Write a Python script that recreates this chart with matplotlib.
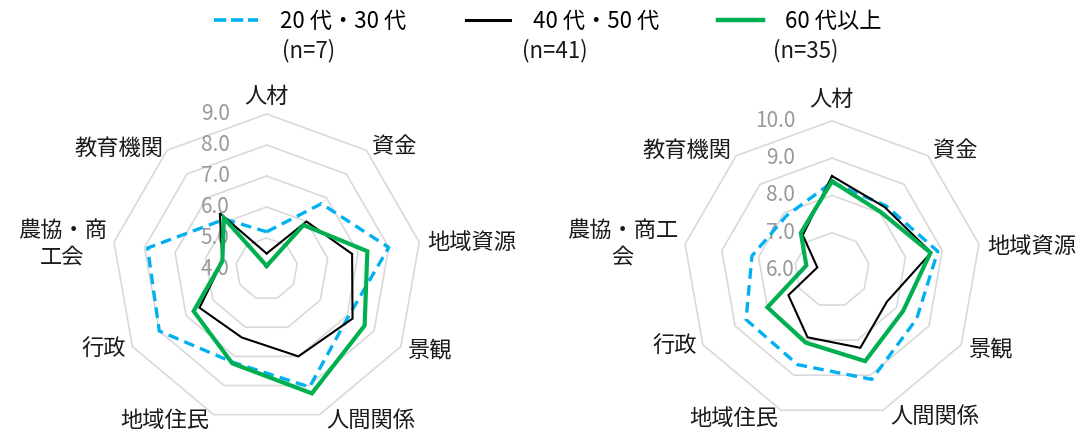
import numpy as np
import matplotlib
matplotlib.use("Agg")
import matplotlib.pyplot as plt
from matplotlib.lines import Line2D

plt.rcParams['font.family'] = ['Noto Sans CJK JP', 'DejaVu Sans']

categories = ['人材', '資金', '地域資源', '景観', '人間関係', '地域住民', '行政', '農協・商工会', '教育機関']
left_names = ['人材', '資金', '地域資源', '景観', '人間関係', '地域住民', '行政', '農協・商\n工会', '教育機関']
right_names = ['人材', '資金', '地域資源', '景観', '人間関係', '地域住民', '行政', '農協・商工\n会', '教育機関']

series_labels = ['20 代・30 代', '40 代・50 代', '60 代以上']
series_n = ['(n=7)', '(n=41)', '(n=35)']

# left chart
left_young = [5.2, 6.75, 8.0, 7.05, 8.05, 7.2, 8.0, 7.9, 6.1]
left_mid = [4.5, 6.0, 6.8, 7.2, 7.0, 6.35, 6.5, 5.45, 6.35]
left_senior = [4.1, 5.85, 7.3, 7.65, 8.27, 7.24, 6.72, 5.45, 6.15]
left_ticks = [4.0, 5.0, 6.0, 7.0, 8.0, 9.0]

# right chart
right_young = [8.35, 8.25, 8.88, 8.62, 9.12, 8.7, 8.66, 8.18, 7.9]
right_mid = [8.52, 8.2, 8.7, 7.7, 8.22, 7.92, 7.35, 6.4, 7.22]
right_senior = [8.38, 8.03, 8.68, 8.2, 8.6, 8.07, 8.0, 6.7, 7.3]
right_ticks = [6.0, 7.0, 8.0, 9.0, 10.0]

colors = ['#00B0F0', '#000000', '#00B050']
widths = [2.4, 1.5, 3.0]

fig = plt.figure(figsize=(10.83, 4.32), dpi=100)

n = len(categories)
theta = np.arange(n) * 2 * np.pi / n
theta_c = np.append(theta, theta[0])

PX = 0.72  # points per pixel at 100 dpi


def radar(ax, names, data, ticks, label_off, tick_off_px=-37):
    ax.set_theta_offset(np.pi / 2)
    ax.set_theta_direction(-1)
    ax.set_ylim(ticks[0], ticks[-1])
    ax.set_axis_off()
    for v in ticks[1:]:
        ax.plot(theta_c, [v] * (n + 1), color='#D9D9D9', lw=1.2, zorder=1, clip_on=False)
    for vals, c, w, k in zip(data, colors, widths, range(3)):
        vv = np.append(vals, vals[0])
        if k == 0:
            ax.plot(theta_c, vv, color=c, lw=w, dashes=(3.2, 1.9), zorder=3, clip_on=False)
        else:
            ax.plot(theta_c, vv, color=c, lw=w, zorder=3 + k, clip_on=False,
                    solid_joinstyle='miter')
    for t in ticks:
        ax.annotate(f'{t:.1f}', xy=(0, t), xytext=(tick_off_px * PX, 0),
                    textcoords='offset points', ha='right', va='center',
                    fontsize=15, color='#999999', zorder=2)
    for i, name in enumerate(names):
        dx, dy, ha = label_off[i]
        ax.annotate(name, xy=(theta[i], ticks[-1]), xytext=(dx * PX, dy * PX),
                    textcoords='offset points', ha=ha, va='center',
                    multialignment='center', fontsize=16, color='#1a1a1a',
                    annotation_clip=False)


axL = fig.add_axes([0.1031, 0.0185, 0.2862, 0.7176], projection='polar')
axR = fig.add_axes([0.6305, 0.0296, 0.2755, 0.6907], projection='polar')

left_off = [(0, 18, 'center'), (6, 4, 'left'), (8, 0, 'left'), (6, -3, 'left'),
            (7, -6, 'left'), (-4, -6, 'right'), (-6, -3, 'right'), (-7, -2, 'right'),
            (-4, 2, 'right')]
right_off = [(0, 21, 'center'), (5, 5, 'left'), (8, -2, 'left'), (7, -4, 'left'),
             (7, -6, 'left'), (-3, -8, 'right'), (-6, -2, 'right'), (-7, 0, 'right'),
             (-5, 5, 'right')]

radar(axL, left_names, [left_young, left_mid, left_senior], left_ticks, left_off)
radar(axR, right_names, [right_young, right_mid, right_senior], right_ticks, right_off)

handles = [Line2D([], [], color=colors[0], lw=2.6, dashes=(3.4, 1.3)),
           Line2D([], [], color=colors[1], lw=2.2),
           Line2D([], [], color=colors[2], lw=3.2)]
leg = fig.legend(handles, series_labels, loc='center left', ncol=3, frameon=False,
                 bbox_to_anchor=(0.1974, 1 - 21 / 432), fontsize=16,
                 handlelength=2.0, handletextpad=1.0, columnspacing=2.67,
                 borderpad=0, borderaxespad=0)
fig.canvas.draw()
r = fig.canvas.get_renderer()
n_off = [2, -11, -12]
for txt, lab, off in zip(leg.get_texts(), series_n, n_off):
    bb = txt.get_window_extent(r)
    x = (bb.x0 + off) / fig.bbox.width
    y = 1 - 51 / 432
    fig.text(x, y, lab, ha='left', va='center', fontsize=16, color='#1a1a1a')

fig.savefig('out.png', dpi=100)
